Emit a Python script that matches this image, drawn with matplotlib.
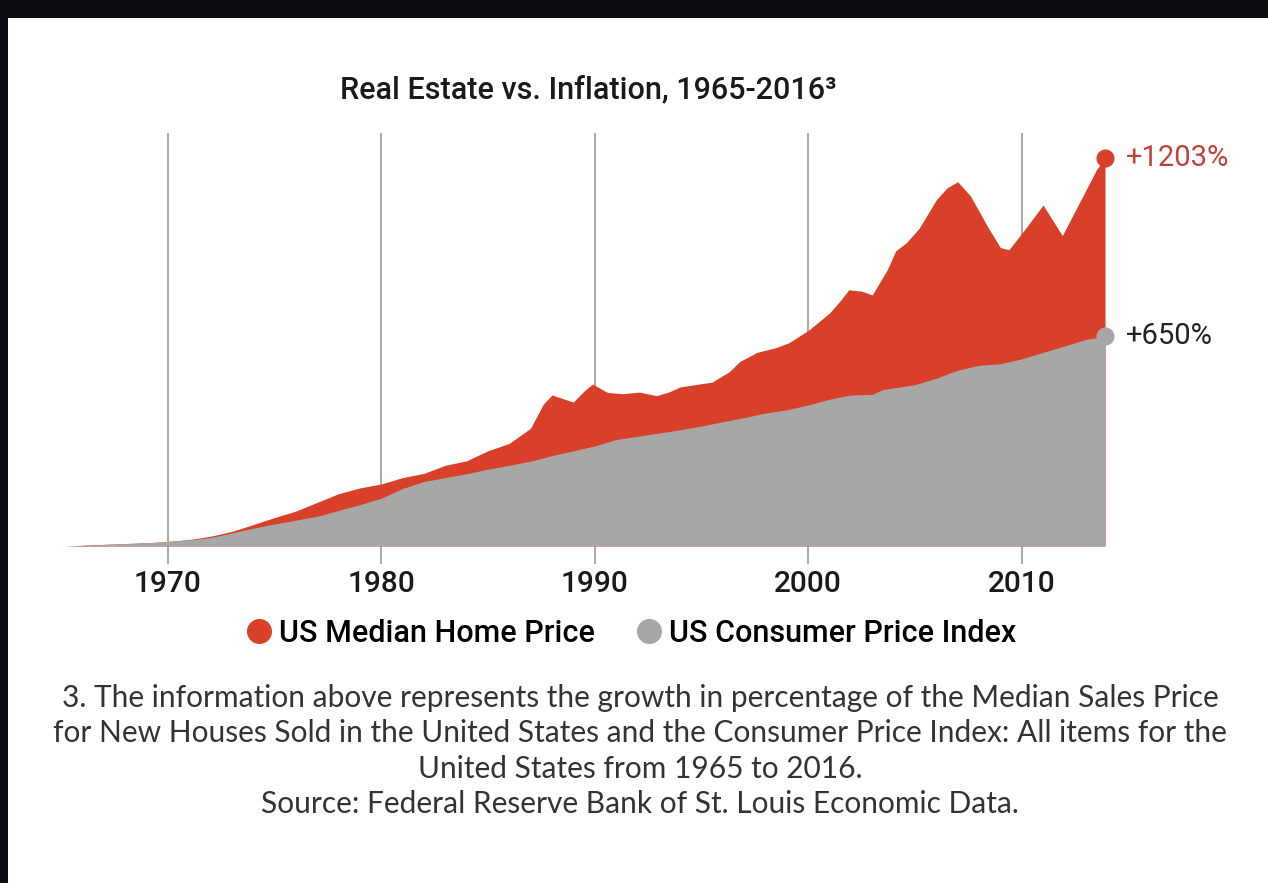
import matplotlib
matplotlib.use("Agg")
import matplotlib.pyplot as plt
from matplotlib.lines import Line2D
from matplotlib.patches import Rectangle

# values (growth in % since 1965)
home_years = [1965.2, 1967, 1969, 1970, 1971, 1972, 1973, 1974, 1975, 1976, 1977, 1978,
              1979, 1980, 1981, 1982, 1983, 1984, 1985, 1986, 1987, 1987.6, 1988, 1988.6,
              1989, 1989.5, 1989.9, 1990.6, 1991.3, 1992.1, 1992.9, 1993.5, 1994, 1995.5,
              1996.3, 1996.8, 1997.6, 1998.5, 1999.1, 2000, 2001, 2001.5, 2001.9, 2002.5,
              2003, 2003.7, 2004.1, 2004.6, 2005.2, 2006, 2006.5, 2007, 2007.6, 2008.4,
              2009, 2009.4, 2010.2, 2011, 2011.9, 2012.7, 2013.5, 2013.9]
home_pct = [0, 5, 10, 14, 20, 30, 45, 66, 88, 108, 135, 162,
            180, 192, 212, 225, 250, 264, 295, 318, 365, 440, 468, 455,
            446, 480, 502, 476, 472, 477, 466, 478, 493, 508,
            540, 572, 600, 615, 630, 668, 722, 760, 794, 790,
            778, 856, 915, 940, 985, 1073, 1110, 1129, 1085, 990,
            925, 918, 986, 1057, 962, 1064, 1166, 1203]

cpi_years = [1965.2, 1967, 1969, 1970, 1971, 1972, 1973, 1974, 1975, 1976, 1977, 1978,
             1979, 1980, 1981, 1982, 1983, 1984, 1985, 1986, 1987, 1988, 1989, 1990,
             1991, 1992, 1993, 1994, 1995, 1996, 1997, 1998, 1999, 2000, 2001, 2002,
             2003, 2003.5, 2004, 2005, 2006, 2007, 2008, 2009, 2010, 2011, 2012, 2013, 2013.9]
cpi_pct = [0, 5, 10, 14, 19, 26, 40, 55, 68, 80, 92, 110,
           128, 148, 178, 200, 212, 224, 238, 250, 263, 280, 295, 310,
           330, 340, 350, 360, 372, 385, 398, 412, 422, 437, 455, 468,
           470, 485, 490, 500, 520, 545, 560, 565, 580, 600, 620, 640, 650]

decades = [1970, 1980, 1990, 2000, 2010]
series_names = ["US Median Home Price", "US Consumer Price Index"]
end_labels = ["+1203%", "+650%"]

red = "#d9402a"
grey = "#a7a7a5"
W, H = 1268, 883

fig = plt.figure(figsize=(W / 100, H / 100), dpi=100)
fig.patch.set_facecolor("#0e0d14")
# white card behind everything
fig.patches.append(Rectangle((8 / W, 0), 1 - 8 / W, 1 - 18 / H, transform=fig.transFigure,
                             facecolor="white", edgecolor="none", zorder=-5))

ax = fig.add_axes([65 / W, (H - 546) / H, 1040 / W, 413 / H])
ax.set_facecolor("none")
ax.set_xlim(home_years[0], home_years[-1])
ax.set_ylim(0, 1280)

ax.vlines(decades, -55, 1280, color="#9a9a9a", lw=1.2, zorder=1, clip_on=False)
ax.fill_between(home_years, 0, home_pct, color=red, lw=0, zorder=2)
ax.fill_between(cpi_years, 0, cpi_pct, color=grey, lw=0, zorder=3)
ax.plot(home_years[-1], home_pct[-1], "o", ms=12, color=red, clip_on=False, zorder=4)
ax.plot(cpi_years[-1], cpi_pct[-1], "o", ms=12, color=grey, clip_on=False, zorder=4)

font = "Roboto"
ax.annotate(end_labels[0], (home_years[-1], home_pct[-1]), xytext=(15, 0),
            textcoords="offset points", va="center", ha="left", fontsize=21,
            color="#c0443a", family=font, annotation_clip=False)
ax.annotate(end_labels[1], (cpi_years[-1], cpi_pct[-1]), xytext=(15, 0),
            textcoords="offset points", va="center", ha="left", fontsize=21,
            color="#222222", family=font, annotation_clip=False)

ax.set_xticks(decades)
ax.set_xticklabels([str(d) for d in decades], family=font, fontsize=21.5,
                   fontweight="medium", color="#1a1a1a")
ax.tick_params(axis="x", length=0, pad=17)
ax.set_yticks([])
for s in ax.spines.values():
    s.set_visible(False)

fig.text(588 / W, 1 - 90 / H, "Real Estate vs. Inflation, 1965-2016³", ha="center",
         va="center", fontsize=22, fontweight="medium", family=font, color="#1a1a1a")

handles = [Line2D([], [], ls="", marker="o", ms=17, color=red),
           Line2D([], [], ls="", marker="o", ms=17, color=grey)]
leg = fig.legend(handles, series_names, loc="center", ncol=2, frameon=False,
                 bbox_to_anchor=(630 / W, 1 - 633 / H), handletextpad=0.15,
                 columnspacing=1.3, handlelength=1.0,
                 prop={"family": font, "size": 22, "weight": "medium"})

note = ("3. The information above represents the growth in percentage of the Median Sales Price\n"
        "for New Houses Sold in the United States and the Consumer Price Index: All items for the\n"
        "United States from 1965 to 2016.\n"
        "Source: Federal Reserve Bank of St. Louis Economic Data.")
fig.text(640 / W, 1 - 751 / H, note, ha="center", va="center", fontsize=21.5,
         family="Lato", color="#333333", linespacing=1.32)

fig.savefig("out.png", dpi=100, facecolor=fig.get_facecolor())
